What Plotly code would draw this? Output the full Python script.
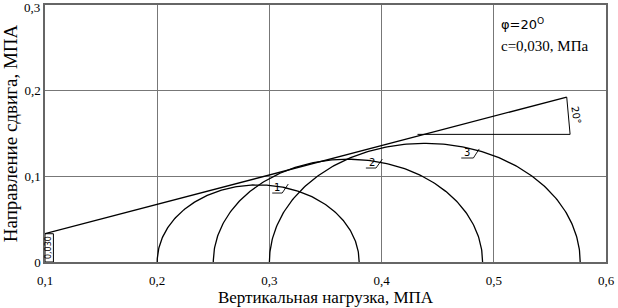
import numpy as np
import plotly.graph_objects as go

# Mohr circles: minor and major principal stresses (MPa)
circle_names = ["1", "2", "3"]
sigma3 = [0.200, 0.250, 0.300]
sigma1 = [0.380, 0.490, 0.577]

# Envelope line (Coulomb): start and end points
env_x = [0.100, 0.565]
env_y = [0.033, 0.1925]

# Angle construction for phi
angle_h_x = [0.432, 0.568]
angle_h_y = [0.149, 0.149]
angle_v_x = [0.565, 0.568]
angle_v_y = [0.1925, 0.149]

# Circle number labels: text pos, underline, slash
label_text_x = [0.307, 0.391, 0.4765]
label_text_y = [0.087, 0.1165, 0.128]
label_ul_x0 = [0.3025, 0.386, 0.471]
label_ul_x1 = [0.3114, 0.395, 0.4818]
label_ul_y = [0.0805, 0.1097, 0.1214]
label_sl_x = [0.3168, 0.4006, 0.487]
label_sl_y = [0.091, 0.120, 0.132]

x_ticks = [0.1, 0.2, 0.3, 0.4, 0.5, 0.6]
x_ticktext = ["0,1", "0,2", "0,3", "0,4", "0,5", "0,6"]
y_ticks = [0, 0.1, 0.2]
y_ticktext = ["0", "0,1", "0,2"]
y_top_tick = 0.3
y_top_ticktext = "0,3"

LINE = dict(color="black", width=1.3)
fig = go.Figure()

t = np.linspace(0, np.pi, 200)
for s3, s1 in zip(sigma3, sigma1):
    c = (s1 + s3) / 2
    r = (s1 - s3) / 2
    fig.add_trace(go.Scatter(x=c + r * np.cos(t), y=r * np.sin(t), mode="lines",
                             line=LINE, hoverinfo="skip"))

fig.add_trace(go.Scatter(x=env_x, y=env_y, mode="lines", line=LINE, hoverinfo="skip"))
fig.add_trace(go.Scatter(x=angle_h_x, y=angle_h_y, mode="lines", line=dict(color="black", width=1)))
fig.add_trace(go.Scatter(x=angle_v_x, y=angle_v_y, mode="lines", line=dict(color="black", width=1)))

for i, name in enumerate(circle_names):
    fig.add_trace(go.Scatter(
        x=[label_ul_x0[i], label_ul_x1[i], label_sl_x[i]],
        y=[label_ul_y[i], label_ul_y[i], label_sl_y[i]],
        mode="lines", line=dict(color="black", width=0.9)))
    fig.add_annotation(x=label_text_x[i], y=label_text_y[i], text=name, showarrow=False,
                       font=dict(family="DejaVu Sans", size=10, color="black"))

# c = 0,030 box at left
fig.add_shape(type="rect", x0=0.1, x1=0.1075, y0=0, y1=env_y[0],
              line=dict(color="black", width=1))
fig.add_annotation(x=0.10375, y=env_y[0] / 2, text="0,030", textangle=-90, showarrow=False,
                   font=dict(family="DejaVu Sans", size=8, color="black"))

# angle label
fig.add_annotation(x=0.5735, y=0.171, text="20°", textangle=80, showarrow=False,
                   font=dict(family="DejaVu Sans", size=10, color="black"))

# parameters text
fig.add_annotation(x=0.505, y=0.278, xanchor="left", text="φ=20<sup>O</sup>", showarrow=False,
                   font=dict(family="DejaVu Sans", size=13, color="black"))
fig.add_annotation(x=0.505, y=0.252, xanchor="left", text="c=0,030, МПа", showarrow=False,
                   font=dict(family="Liberation Serif", size=15, color="black"))

# top y tick label (placed by hand so it is not clipped at the top edge)
fig.add_annotation(x=0.1, y=y_top_tick, xref="x", yref="y", text=y_top_ticktext,
                   xanchor="right", yanchor="middle", xshift=-3, yshift=-2, showarrow=False,
                   font=dict(family="Liberation Serif", size=13, color="black"))

axis_common = dict(showgrid=True, gridcolor="#777777", gridwidth=1, showline=True,
                   linecolor="#666666", linewidth=1.5, mirror=True, zeroline=False,
                   automargin=False, ticks="",
                   tickfont=dict(family="Liberation Serif", size=13, color="black"))

fig.update_layout(
    width=618, height=308,
    margin=dict(l=45, r=12, t=5, b=46),
    paper_bgcolor="white", plot_bgcolor="white",
    showlegend=False,
    xaxis=dict(range=[0.1, 0.6], tickvals=x_ticks, ticktext=x_ticktext, ticklabelstandoff=6,
               title=dict(text="Вертикальная нагрузка, МПА", standoff=2,
                          font=dict(family="Liberation Serif", size=17, color="black")),
               **axis_common),
    yaxis=dict(range=[0, 0.3], tickvals=y_ticks, ticktext=y_ticktext,
               title=dict(text="Направление сдвига, МПА", standoff=2,
                          font=dict(family="Liberation Serif", size=19, color="black")),
               **axis_common),
)

fig.write_html("out.html", config={"displayModeBar": False},
               post_script="document.body.style.margin='0';document.body.style.overflow='hidden';")
